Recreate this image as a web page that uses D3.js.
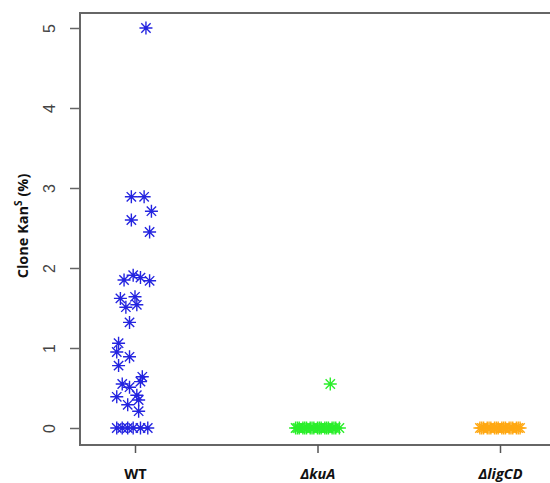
<!DOCTYPE html>
<html>
<head>
<meta charset="utf-8">
<script src="https://cdn.jsdelivr.net/npm/d3@7"></script>
<style>
  body { margin: 0; background: #fff; }
  svg { display: block; }
</style>
</head>
<body>
<div id="chart"></div>
<script>
// categories and tick labels
const categories = ['WT', 'ΔkuA', 'ΔligCD'];
const yTicks = [0, 1, 2, 3, 4, 5];

// WT: jittered x position (category units) and value (%)
const wtX = [1.06, 0.98, 1.05, 1.09, 0.98, 1.08, 0.94, 0.99, 1.03, 1.08,
  0.92, 1.00, 0.95, 1.01, 0.97, 0.91, 0.90, 0.97, 0.91, 1.04,
  1.03, 0.93, 0.97, 0.90, 1.01, 1.02, 0.96, 1.02,
  0.90, 0.93, 0.96, 0.99, 1.03, 1.07];
const wtY = [5.0, 2.89, 2.89, 2.71, 2.60, 2.45, 1.85, 1.91, 1.88, 1.84,
  1.62, 1.64, 1.51, 1.54, 1.32, 1.06, 0.95, 0.89, 0.78, 0.64,
  0.58, 0.55, 0.51, 0.39, 0.41, 0.35, 0.29, 0.21,
  0, 0, 0, 0, 0, 0];

// ΔkuA
const kuaX = [2.07, 1.88, 1.90, 1.92, 1.94, 1.96, 1.98, 2.00, 2.02, 2.04,
  2.06, 2.08, 2.10, 2.12, 1.89, 1.93, 1.97, 2.01, 2.05, 2.09];
const kuaY = [0.55, 0, 0, 0, 0, 0, 0, 0, 0, 0,
  0, 0, 0, 0, 0, 0, 0, 0, 0, 0];

// ΔligCD
const ligX = [2.89, 2.91, 2.93, 2.95, 2.97, 2.99, 3.01, 3.03, 3.05, 3.07,
  3.09, 3.11, 2.90, 2.94, 2.98, 3.02, 3.06, 3.10];
const ligY = [0, 0, 0, 0, 0, 0, 0, 0, 0, 0,
  0, 0, 0, 0, 0, 0, 0, 0];

const series = [
  { x: wtX, y: wtY, color: '#2424e0' },
  { x: kuaX, y: kuaY, color: '#2aee2a' },
  { x: ligX, y: ligY, color: '#ffa812' },
];

const width = 550;
const height = 483;
const frame = { left: 80, top: 13, right: 562, bottom: 445 };

const svg = d3.select('#chart').append('svg')
  .attr('width', width)
  .attr('height', height);

// scales
const x = d3.scaleLinear().domain([1, 3]).range([135, 500]);
const y = d3.scaleLinear().domain([0, 5]).range([428, 28]);

// frame
svg.append('rect')
  .attr('x', frame.left)
  .attr('y', frame.top)
  .attr('width', frame.right - frame.left)
  .attr('height', frame.bottom - frame.top)
  .attr('fill', 'none')
  .attr('stroke', '#666')
  .attr('stroke-width', 2);

// y axis, labels parallel to the axis like R's default
const yAxis = svg.append('g')
  .attr('transform', `translate(${frame.left},0)`)
  .call(d3.axisLeft(y).tickValues(yTicks).tickSize(10).tickFormat(d3.format('d')));
yAxis.select('.domain').remove();
yAxis.selectAll('line').attr('stroke', '#666').attr('stroke-width', 1.5);
yAxis.selectAll('text')
  .attr('x', null)
  .attr('dy', null)
  .attr('transform', 'translate(-25,0) rotate(-90)')
  .attr('text-anchor', 'middle')
  .attr('fill', '#444')
  .style('font', '16px "Liberation Sans", Arial, sans-serif');

// x axis
const xAxis = svg.append('g')
  .attr('transform', `translate(0,${frame.bottom})`)
  .call(d3.axisBottom(x).tickValues([1, 2, 3]).tickSize(8).tickPadding(16)
    .tickFormat((d, i) => categories[i]));
xAxis.select('.domain').remove();
xAxis.selectAll('line').attr('stroke', '#555').attr('stroke-width', 1.5);
xAxis.selectAll('text')
  .attr('fill', '#111')
  .style('font-family', '"Open Sans", "Liberation Sans", sans-serif')
  .style('font-size', '14.5px')
  .style('font-weight', 'bold')
  .style('font-style', (d, i) => i === 0 ? 'normal' : 'italic');

// y label
const ylab = svg.append('text')
  .attr('transform', 'translate(28,226) rotate(-90)')
  .attr('text-anchor', 'middle')
  .attr('fill', '#111')
  .style('font-family', '"Open Sans", "Liberation Sans", sans-serif')
  .style('font-size', '14.5px')
  .style('font-weight', 'bold');
ylab.append('tspan').text('Clone Kan');
ylab.append('tspan').text('S').attr('dy', -6).style('font-size', '10px');
ylab.append('tspan').text(' (%)').attr('dy', 6);

// points: asterisk (plus + cross)
const r = 6.5;
const k = r * 0.72;
const star = `M${-r},0H${r}M0,${-r}V${r}M${-k},${-k}L${k},${k}M${-k},${k}L${k},${-k}`;
series.forEach(s => {
  svg.append('g')
    .selectAll('path')
    .data(s.y.map((v, i) => ({ x: s.x[i], y: v })))
    .enter().append('path')
    .attr('transform', p => `translate(${x(p.x)},${y(p.y)})`)
    .attr('d', star)
    .attr('fill', 'none')
    .attr('stroke', s.color)
    .attr('stroke-width', 1.4);
});
</script>
</body>
</html>
